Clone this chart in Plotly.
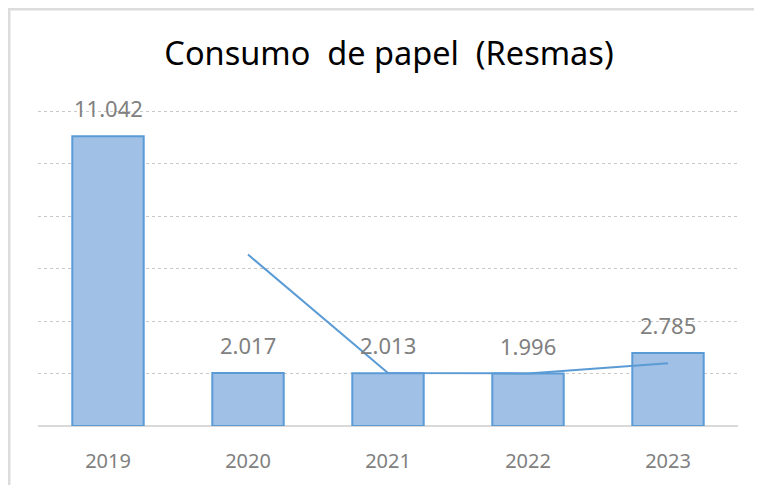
import plotly.graph_objects as go

years = ["2019", "2020", "2021", "2022", "2023"]
consumo = [11042, 2017, 2013, 1996, 2785]
labels = ["11.042", "2.017", "2.013", "1.996", "2.785"]

# 2-period moving average (Excel trendline style)
ma_x = years[1:]
ma_y = [(consumo[i - 1] + consumo[i]) / 2 for i in range(1, len(consumo))]

fig = go.Figure()
fig.add_trace(go.Bar(
    x=years, y=consumo,
    marker=dict(color="#a1c0e6", line=dict(color="#5b9bd5", width=2)),
    width=0.51,
))
fig.add_trace(go.Scatter(
    x=ma_x, y=ma_y, mode="lines",
    line=dict(color="#5b9bd5", width=2),
))

annotations = [
    dict(x=i, y=v, xref="x", yref="y", text=t, showarrow=False,
         xanchor="center", yanchor="bottom", yshift=11,
         font=dict(family="Noto Sans", size=22, color="#808080"))
    for i, (v, t) in enumerate(zip(consumo, labels))
]

T, B, L, R = 101, 67, 30, 32
H = 485 - T - B
fig.update_layout(
    width=762, height=485,
    margin=dict(l=L, r=R, t=T, b=B),
    paper_bgcolor="white", plot_bgcolor="white",
    showlegend=False,
    annotations=annotations,
    title=dict(text="Consumo  de papel  (Resmas)", x=0.5, xanchor="center",
               y=1 - 46 / 485, yanchor="middle",
               font=dict(family="Noto Sans", size=32.5, color="#000000")),
    xaxis=dict(type="category", range=[-0.5, len(years) - 0.5],
               showgrid=False, showline=False, ticks="", ticklabelstandoff=21,
               tickfont=dict(family="Noto Sans", size=20, color="#808080")),
    yaxis=dict(range=[0, 12000 * H / 315], tickvals=[2000, 4000, 6000, 8000, 10000, 12000],
               showticklabels=False,
               showgrid=True, gridcolor="#c8c8c8", griddash="dot", gridwidth=1,
               zeroline=True, zerolinecolor="#d9d9d9", zerolinewidth=1.5),
    shapes=[dict(type="rect", xref="paper", yref="paper",
                 x0=(1 - L) / 700, x1=1.2, y0=-0.5, y1=(485 - B - 1) / H,
                 line=dict(color="#dcdcdc", width=3), layer="below")],
)

fig.write_html("out.html")
